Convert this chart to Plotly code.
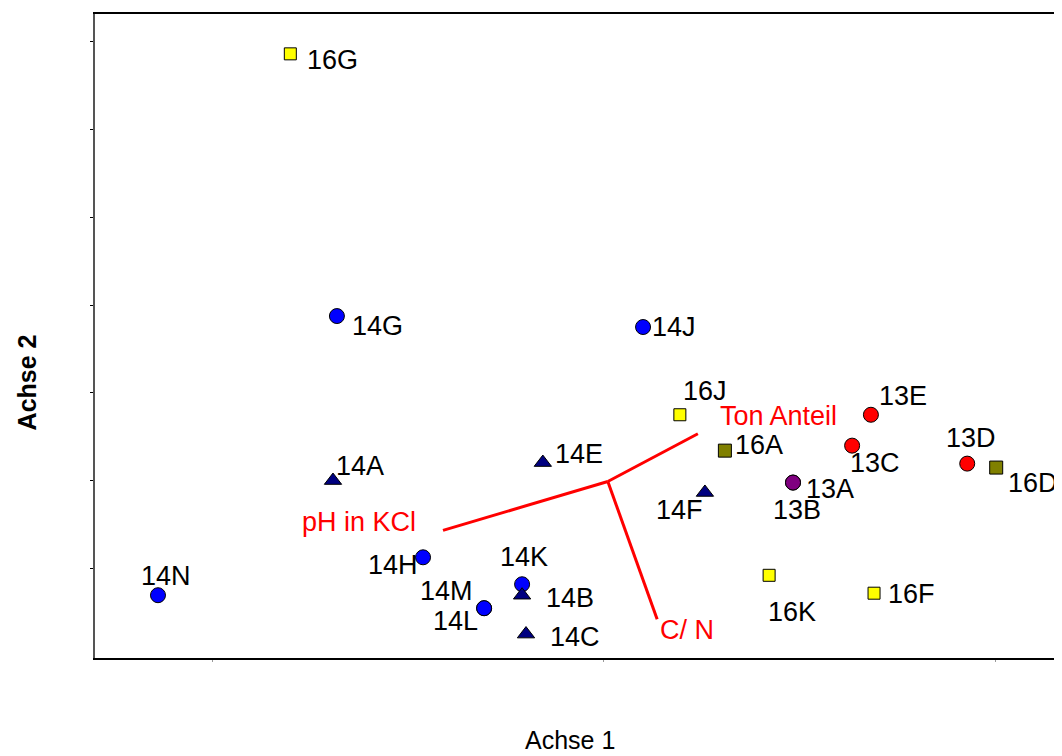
import plotly.graph_objects as go

# ---------------- data (Achse 1 / Achse 2 scores) ----------------
sample_names = ["16G", "14G", "14J", "16J", "13E", "13C", "16A", "13D", "16D",
                "13B", "13A", "14F", "14A", "14E", "14H", "14K", "14B", "14M",
                "14L", "14C", "14N", "16K", "16F"]
achse1 = [0.200, 0.319, 1.101, 1.195, 1.683, 1.635, 1.310, 1.929, 2.003,
          1.484, 1.484, 1.259, 0.309, 0.845, 0.539, 0.792, 0.792, 0.695,
          0.695, 0.802, -0.138, 1.423, 1.691]
achse2 = [5.864, 2.875, 2.750, 1.750, 1.750, 1.398, 1.341, 1.193, 1.148,
          0.977, 0.977, 0.864, 1.000, 1.205, 0.125, -0.182, -0.307, -0.455,
          -0.455, -0.750, -0.307, -0.080, -0.284]
sample_group = ["G16", "C14", "C14", "G16", "R13", "R13", "O16", "R13", "O16",
                "R13", "P13", "T14", "T14", "T14", "C14", "C14", "T14", "C14",
                "C14", "T14", "C14", "G16", "G16"]

# environmental vectors (biplot arrows)
env_names = ["Ton Anteil", "pH in KCl", "C/ N"]
env_origin = (1.011, 0.989)
env_x = [1.241, 0.590, 1.137]
env_y = [1.534, 0.432, -0.580]

x_ticks = [0, 1, 2]
y_ticks = [0, 1, 2, 3, 4, 5, 6]

# ---------------- styles ----------------
group_style = {
    "R13": dict(symbol="circle", color="#FF0000", size=15),
    "P13": dict(symbol="circle", color="#800080", size=15),
    "C14": dict(symbol="circle", color="#0000FF", size=15),
    "T14": dict(symbol="triangle-up", color="#000080", size=15),
    "G16": dict(symbol="square", color="#FFFF00", size=12),
    "O16": dict(symbol="square", color="#808000", size=13),
}
group_order = ["R13", "P13", "C14", "T14", "G16", "O16"]

# label placement: (xanchor, xshift, yshift) in px
label_pos = {
    "16G": ("left", 15, -6), "14G": ("left", 13, -10), "14J": ("left", 7, 0),
    "16J": ("left", 1, 24), "13E": ("left", 6, 19), "13C": ("left", -4, -17),
    "16A": ("left", 8, 6), "13D": ("center", 4, 26), "16D": ("left", 10, -15),
    "13A": ("left", 11, -6), "13B": ("left", -22, -27), "14F": ("right", 0, -18),
    "14A": ("left", 1, 15), "14E": ("left", 10, 9), "14H": ("right", -3, -8),
    "14K": ("center", 2, 27), "14B": ("left", 22, -3), "14M": ("right", -9, 17),
    "14L": ("right", -4, -13), "14C": ("left", 22, -3), "14N": ("center", 8, 19),
    "16K": ("left", -3, -37), "16F": ("left", 12, -1),
}
env_label_pos = {
    "Ton Anteil": ("left", 20, 18),
    "pH in KCl": ("right", -25, 8),
    "C/ N": ("left", 1, -11),
}

FONT = "Liberation Sans, Arial, sans-serif"

fig = go.Figure()

# biplot lines
for name, ex, ey in zip(env_names, env_x, env_y):
    fig.add_trace(go.Scatter(
        x=[env_origin[0], ex], y=[env_origin[1], ey], mode="lines",
        line=dict(color="#FF0000", width=3), showlegend=False, hoverinfo="skip"))

# sample markers
for g in group_order:
    idx = [i for i, s in enumerate(sample_group) if s == g]
    st = group_style[g]
    fig.add_trace(go.Scatter(
        x=[achse1[i] for i in idx], y=[achse2[i] for i in idx],
        text=[sample_names[i] for i in idx], mode="markers",
        marker=dict(symbol=st["symbol"], color=st["color"], size=st["size"],
                    line=dict(color="black", width=1)),
        showlegend=False, hovertemplate="%{text}<extra></extra>"))

# sample labels
for n, xv, yv in zip(sample_names, achse1, achse2):
    anc, xs, ys = label_pos[n]
    fig.add_annotation(x=xv, y=yv, text=n, showarrow=False, xanchor=anc,
                       yanchor="middle", xshift=xs, yshift=ys,
                       font=dict(family=FONT, size=27, color="black"))

# vector labels
for n, xv, yv in zip(env_names, env_x, env_y):
    anc, xs, ys = env_label_pos[n]
    fig.add_annotation(x=xv, y=yv, text=n, showarrow=False, xanchor=anc,
                       yanchor="middle", xshift=xs, yshift=ys,
                       font=dict(family=FONT, size=27, color="#FF0000"))

# axis titles
fig.add_annotation(xref="paper", yref="paper", x=0.491, y=-0.128, text="Achse 1",
                   showarrow=False, xanchor="center", yanchor="middle",
                   font=dict(family=FONT, size=25, color="black"))
fig.add_annotation(xref="paper", yref="paper", x=-0.0703, y=0.428,
                   text="<b>Achse 2</b>", textangle=-90, showarrow=False,
                   xanchor="center", yanchor="middle",
                   font=dict(family=FONT, size=25, color="black"))

fig.update_layout(
    width=1062, height=756,
    margin=dict(l=87, r=8, t=4, b=106),
    paper_bgcolor="white", plot_bgcolor="white",
    font=dict(family=FONT),
    xaxis=dict(range=[-0.2989, 2.1711], showgrid=False, zeroline=False,
               showline=True, linecolor="black", linewidth=2, mirror=True,
               ticks="outside", ticklen=2, tickcolor="#999999",
               tickvals=x_ticks, showticklabels=False),
    yaxis=dict(range=[-1.0227, 6.3182], showgrid=False, zeroline=False,
               showline=True, linecolor="#555555", linewidth=2, mirror=False,
               ticks="outside", ticklen=3, tickcolor="black",
               tickvals=y_ticks, showticklabels=False),
)

fig.write_html("out.html")
